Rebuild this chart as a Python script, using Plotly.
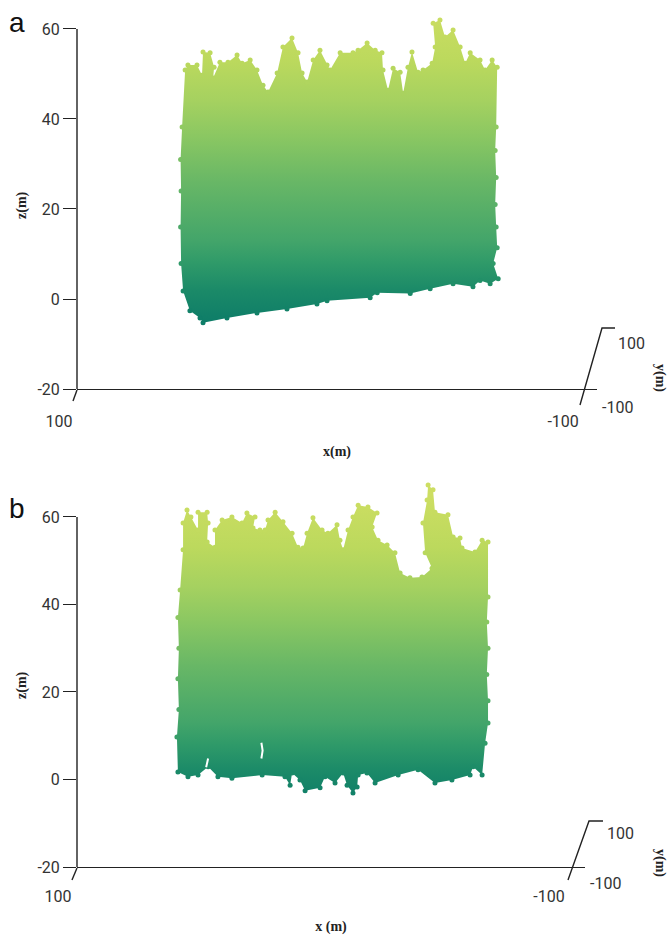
import plotly.graph_objects as go

W, H = 668, 935

# Panel a: crown / ground outline of the point cloud (x in m, z in m)
a_x_top = [58.3,57.1,56.0,52.4,50.4,50.0,47.2,45.6,46.0,43.3,40.1,36.5,34.5,31.3,28.6,26.2,24.2,20.6,18.3,14.7,12.3,10.7,8.7,6.3,3.6,0.8,-0.4,-4.4,-9.5,-11.5,-15.1,-18.3,-21.0,-21.4,-23.4,-25.4,-28.2,-29.4,-31.3,-32.9,-35.3,-37.3,-40.9,-42.1,-41.3,-44.0,-46.0,-49.2,-52.0,-54.0,-56.0,-59.9,-61.9,-64.7,-66.7,-66.3]
a_z_top = [38.2,50.9,52.0,52.0,49.7,54.9,54.7,51.5,49.1,52.6,52.6,54.2,52.4,53.1,50.9,47.5,46.0,50.2,56.0,58.0,54.7,50.2,48.2,53.1,55.3,52.0,50.9,54.7,54.7,55.3,56.9,55.3,54.7,50.9,46.4,51.3,50.4,45.7,51.5,54.9,50.4,50.9,52.4,56.0,61.3,62.0,58.2,59.8,56.0,52.4,54.7,53.1,50.9,53.1,51.5,38.2]
a_x_bot = [-65.9,-66.3,-65.9,-66.3,-66.7,-65.1,-67.1,-63.9,-59.9,-57.1,-49.2,-40.1,-32.2,-19.1,-16.3,0.8,4.8,16.7,28.6,40.5,50.0,51.2,55.2,57.9,58.7,58.9,58.7,58.9]
a_z_bot = [33.0,27.0,21.0,16.0,11.4,7.9,4.5,3.4,4.1,2.7,3.4,2.3,1.2,1.4,0.3,-0.4,-1.1,-2.2,-3.1,-4.2,-5.3,-4.2,-2.6,1.8,7.9,16.0,24.0,31.0]

# Panel b outline
b_x_top = [58.0,56.8,56.8,55.2,53.6,50.7,50.7,47.0,46.6,47.0,43.8,43.8,40.9,36.9,32.8,30.8,27.5,28.3,25.5,23.4,22.2,19.3,16.1,12.4,10.0,7.9,6.3,3.9,0.2,-2.2,-5.9,-7.1,-8.4,-10.4,-12.4,-14.5,-18.5,-22.2,-20.2,-22.6,-26.3,-29.5,-31.6,-35.6,-40.5,-44.6,-41.8,-40.9,-42.6,-43.0,-45.0,-45.8,-51.1,-53.2,-56.0,-56.8,-62.1,-65.0,-67.4,-67.4]
b_z_top = [43.3,52.5,58.6,61.6,60.0,57.0,61.1,61.1,58.6,54.3,53.1,57.0,59.3,60.0,58.6,60.9,60.0,57.5,57.0,57.0,59.3,61.1,58.9,56.3,53.1,52.9,56.3,59.8,57.0,56.3,58.2,54.7,52.5,57.0,60.0,62.7,62.3,60.9,57.7,54.7,53.6,51.8,47.2,46.1,46.3,48.3,51.8,58.6,63.9,67.3,66.2,61.1,60.5,55.4,55.2,52.9,52.0,54.7,54.3,41.7]
b_x_bot = [-66.9,-67.4,-66.9,-67.4,-67.4,-66.2,-65.0,-61.3,-60.1,-52.7,-45.8,-38.9,-30.8,-21.4,-18.1,-14.5,-14.1,-12.4,-10.0,-8.4,-5.1,-1.0,1.0,7.1,9.2,12.4,13.2,15.3,24.6,36.9,42.6,46.6,50.7,54.8,58.9,59.3,58.5,58.9,58.5,58.9]
b_z_bot = [36.0,30.0,24.0,18.0,12.9,8.3,1.0,2.9,1.0,-0.1,-0.8,2.2,1.0,-0.8,1.5,1.0,-1.7,-3.1,-1.3,1.5,-0.8,0.6,-1.9,-2.6,-0.1,1.5,-1.3,0.6,1.0,0.3,0.6,2.9,1.0,0.6,1.7,9.7,16.0,23.0,30.0,37.0]

# Small openings in the cloud of panel b
b_gap_x = [24.9, 24.4, 24.9, None, 46.6, 47.4]
b_gap_z = [8.4, 6.6, 4.8, None, 4.8, 2.8]

z_ticks = [60, 40, 20, 0, -20]
z_tick_labels = ["60", "40", "20", "0", "-20"]
x_ticks = [100, -100]
x_tick_labels = ["100", "-100"]

GREENS = [[0.0, "#0E7D68"], [0.10, "#1B8A68"], [0.186, "#2F9A69"], [0.257, "#43A56A"], [0.443, "#68B766"],
          [0.586, "#8AC762"], [0.70, "#A5D160"], [0.83, "#BCD95D"], [1.0, "#CDDE62"]]
Z_LOW, Z_HIGH = -5, 65
AXIS = "#222222"
TICKFONT = dict(family="Roboto", size=16, color="#333333")
TITLEFONT = dict(family="Liberation Serif", size=14, color="#222222", weight=700)


def px(v):
    return v / W


def py(v):
    return 1 - v / H


def cloud(x, z, xaxis, yaxis):
    return go.Scatter(
        x=x, y=z, xaxis=xaxis, yaxis=yaxis, mode="lines+markers", fill="toself",
        line=dict(width=0),
        marker=dict(size=5, color=z, colorscale=GREENS, cmin=Z_LOW, cmax=Z_HIGH, line=dict(width=0)),
        fillgradient=dict(type="vertical", colorscale=GREENS, start=Z_LOW, stop=Z_HIGH),
        hoverinfo="skip", showlegend=False, cliponaxis=False,
    )


fig = go.Figure()
fig.add_trace(cloud(a_x_top + a_x_bot, a_z_top + a_z_bot, "x", "y"))
fig.add_trace(cloud(b_x_top + b_x_bot, b_z_top + b_z_bot, "x2", "y2"))
fig.add_trace(go.Scatter(x=b_gap_x, y=b_gap_z, xaxis="x2", yaxis="y2", mode="lines",
                         line=dict(color="white", width=2), hoverinfo="skip", showlegend=False))


def xaxis_style(left, right, rng, title, shift, tick_standoff, title_standoff, anchor):
    return dict(
        domain=[px(left), px(right)], range=rng, anchor=anchor, automargin=False, tickmode="array",
        tickvals=x_ticks, ticktext=x_tick_labels,
        ticks="", ticklabelstandoff=tick_standoff, ticklabelshift=shift, tickfont=TICKFONT, showgrid=False,
        zeroline=False, showline=True, linecolor=AXIS, linewidth=1.4,
        title=dict(text=title, font=TITLEFONT, standoff=title_standoff),
    )


def yaxis_style(top_px, bottom_px, rng, anchor):
    return dict(
        domain=[py(bottom_px), py(top_px)], range=rng, anchor=anchor, automargin=False, tickmode="array",
        tickvals=z_ticks, ticktext=z_tick_labels, ticks="outside",
        ticklen=13, tickwidth=1, tickcolor=AXIS, tickfont=TICKFONT, showgrid=False, zeroline=False, showline=False,
    )


def seg(points, ref_w=1.4):
    d = "M " + " L ".join(f"{px(a):.5f},{py(b):.5f}" for a, b in points)
    return dict(type="path", path=d, xref="paper", yref="paper", line=dict(color=AXIS, width=ref_w))


def note(text, x, y, font=None, angle=0):
    return dict(text=text, x=px(x), y=py(y), xref="paper", yref="paper", showarrow=False, textangle=angle,
                xanchor="center", yanchor="middle", font=font or TICKFONT)


z_line = lambda xa, ya: dict(type="line", xref=f"{xa} domain", yref=ya, x0=0, x1=0, y0=-20, y1=60,
                             line=dict(color=AXIS, width=1.4))
PANEL = dict(family="Liberation Sans", size=28, color="#111111")

fig.update_layout(
    width=W, height=H, margin=dict(l=0, r=0, t=0, b=0), paper_bgcolor="white", plot_bgcolor="white",
    xaxis=xaxis_style(77, 597, [100, -106.3], "x(m)", 18, 18, 15, "y"),
    yaxis=yaxis_style(0, 389, [-20, 66.44], "x"),
    xaxis2=xaxis_style(77, 585, [100, -106.9], "x (m)", 19, 15, 17, "y2"),
    yaxis2=yaxis_style(470, 867, [-20, 70.74], "x2"),
    shapes=[
        z_line("x", "y"), z_line("x2", "y2"),
        seg([(77, 390), (73, 401)]), seg([(580, 405), (602, 328), (615, 328)]),
        seg([(77, 868), (72, 880)]), seg([(568, 880), (589, 821), (603, 821)]),
    ],
    annotations=[
        note("a", 17, 22, PANEL), note("b", 17, 508, PANEL),
        note("z(m)", 22, 205, TITLEFONT, -90), note("z(m)", 22, 685, TITLEFONT, -90),
        note("100", 631, 343), note("-100", 617, 407),
        note("y(m)", 660, 378, TITLEFONT, 90),
        note("100", 620, 833), note("-100", 605, 883),
        note("y(m)", 660, 863, TITLEFONT, 90),
    ],
)

fig.write_html("out.html", config=dict(displayModeBar=False),
               post_script="document.body.style.margin='0';document.body.style.overflow='hidden';")
